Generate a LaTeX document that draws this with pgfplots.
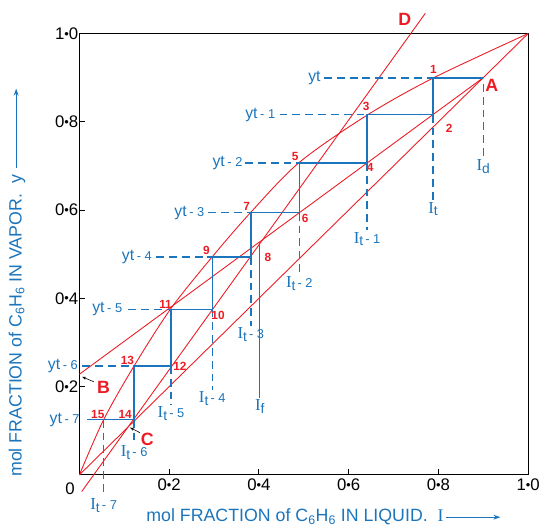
\documentclass[border=0pt]{standalone}
\usepackage{fontspec}
\setmainfont{Liberation Sans}
\newfontfamily\serif{Liberation Serif}
\usepackage{pgfplots}
\pgfplotsset{compat=1.18}
\usetikzlibrary{arrows.meta}
\definecolor{lred}{RGB}{237,28,36}
\definecolor{lblue}{RGB}{27,117,188}
\newcommand\fs[1]{\fontsize{#1}{#1}\selectfont}
% decimal dot of the tick labels
\newcommand\dt{\raisebox{1.2pt}{\fs{13}•}}
% labels for the stage lines
\newcommand\yl[1]{yt\,{\fs{13}- #1}}
\newcommand\il[1]{{\serif\fs{17}I}{\fs{14}\raisebox{-3pt}{t}}{\fs{13}\,- #1}}
\begin{document}
\begin{tikzpicture}
\begin{axis}[
  width=454.5pt, height=447pt, scale only axis,
  xmin=0, xmax=1, ymin=0, ymax=1,
  clip=false,
  axis line style={black, line width=1.1pt},
  xtick={0.2,0.4,0.6,0.8,1.0}, ytick={0.2,0.4,0.6,0.8,1.0},
  xticklabels={0\dt2,0\dt4,0\dt6,0\dt8,1\dt0},
  yticklabels={0\dt2,0\dt4,0\dt6,0\dt8,1\dt0},
  xtick pos=left, ytick pos=left, tick align=inside,
  major tick length=6pt,
  tick style={black, line width=1pt},
  ticklabel style={font=\fs{17}, text=black},
  yticklabel style={inner xsep=1pt},
  xticklabel style={inner ysep=4pt},
]
% diagonal, equilibrium curve, operating lines
\addplot[lred, line width=0.9pt] coordinates {(0,0) (1,1)};
\addplot[lred, line width=0.9pt, smooth] coordinates {
  (0,0) (0.054,0.125) (0.122,0.247) (0.204,0.377) (0.296,0.494) (0.382,0.595)
  (0.490,0.708) (0.641,0.815) (0.788,0.899) (1,1)};
\addplot[lred, line width=0.9pt] coordinates {(0,0.228) (0.9,0.9)};
\addplot[lred, line width=0.9pt] coordinates {(0.005,-0.038) (0.771,1.046)};

% stage staircase
\addplot[lblue, line width=1.4pt] coordinates {
  (0.9,0.899) (0.788,0.899) (0.788,0.816) (0.641,0.816) (0.641,0.707)
  (0.490,0.707) (0.490,0.594) (0.382,0.594) (0.382,0.494) (0.296,0.494)
  (0.296,0.375) (0.204,0.375) (0.204,0.247) (0.122,0.247) (0.122,0.125)
  (0.017,0.125)};
\addplot[lblue, line width=1.4pt] coordinates {(0.402,0.528) (0.402,0.174)};
\addplot[lblue, line width=1.4pt, dash pattern=on 8pt off 5pt, unbounded coords=jump] coordinates {
  (0.545,0.899) (0.788,0.899) (nan,nan)
  (0.446,0.816) (0.641,0.816) (nan,nan)
  (0.369,0.707) (0.490,0.707) (nan,nan)
  (0.287,0.594) (0.382,0.594) (nan,nan)
  (0.171,0.494) (0.296,0.494) (nan,nan)
  (0.109,0.375) (0.204,0.375) (nan,nan)
  (0.006,0.247) (0.122,0.247) (nan,nan)
  (0.788,0.816) (0.788,0.622) (nan,nan)
  (0.9,0.886) (0.9,0.718) (nan,nan)
  (0.641,0.707) (0.641,0.554) (nan,nan)
  (0.490,0.594) (0.490,0.454) (nan,nan)
  (0.382,0.494) (0.382,0.338) (nan,nan)
  (0.296,0.375) (0.296,0.192) (nan,nan)
  (0.204,0.247) (0.204,0.159) (nan,nan)
  (0.122,0.125) (0.122,0.070) (nan,nan)
  (0.054,0.125) (0.054,-0.049)};

% y labels of the stages
\begin{scope}[every node/.style={anchor=east, text=lblue, font=\fs{16}, inner sep=1pt}]
\node at (axis cs:0.540,0.899) {yt};
\node at (axis cs:0.439,0.816) {\yl1};
\node at (axis cs:0.366,0.707) {\yl2};
\node at (axis cs:0.281,0.594) {\yl3};
\node at (axis cs:0.164,0.494) {\yl4};
\node at (axis cs:0.098,0.375) {\yl5};
\node at (axis cs:-0.001,0.247) {\yl6};
\node at (axis cs:0.003,0.125) {\yl7};
\end{scope}
% x labels of the stages
\begin{scope}[every node/.style={anchor=north, text=lblue, inner sep=1.5pt}]
\node at (axis cs:0.788,0.622) {{\serif\fs{17}I}{\fs{14}\raisebox{-3pt}{t}}};
\node at (axis cs:0.9,0.718) {{\serif\fs{17}I}{\fs{14}\raisebox{-3pt}{d}}};
\node at (axis cs:0.641,0.554) {\il1};
\node at (axis cs:0.490,0.454) {\il2};
\node at (axis cs:0.382,0.338) {\il3};
\node at (axis cs:0.296,0.192) {\il4};
\node at (axis cs:0.204,0.159) {\il5};
\node at (axis cs:0.122,0.070) {\il6};
\node at (axis cs:0.054,-0.049) {\il7};
\node at (axis cs:0.402,0.174) {{\serif\fs{17}I}{\fs{14}\raisebox{-3pt}{f}}};
\end{scope}
% stage numbers
\begin{scope}[every node/.style={text=lred, font=\bfseries\fs{12}, inner sep=0pt}]
\node at (axis cs:0.789,0.918) {1};
\node at (axis cs:0.824,0.785) {2};
\node at (axis cs:0.639,0.835) {3};
\node at (axis cs:0.648,0.696) {4};
\node at (axis cs:0.481,0.722) {5};
\node at (axis cs:0.503,0.582) {6};
\node at (axis cs:0.373,0.608) {7};
\node at (axis cs:0.420,0.493) {8};
\node at (axis cs:0.283,0.509) {9};
\node at (axis cs:0.309,0.362) {10};
\node at (axis cs:0.192,0.386) {11};
\node at (axis cs:0.224,0.245) {12};
\node at (axis cs:0.107,0.260) {13};
\node at (axis cs:0.102,0.136) {14};
\node at (axis cs:0.041,0.136) {15};
\end{scope}
% end points
\begin{scope}[every node/.style={text=lred, font=\bfseries\fs{18}, inner sep=0pt}]
\node at (axis cs:0.919,0.882) {A};
\node at (axis cs:0.054,0.199) {B};
\node at (axis cs:0.151,0.081) {C};
\node at (axis cs:0.725,1.031) {D};
\end{scope}
\draw[-{Stealth[length=4pt,width=3pt]}, black, line width=0.6pt] (axis cs:0.032,0.211) -- (axis cs:0.006,0.222);
\draw[-{Stealth[length=4pt,width=3pt]}, black, line width=0.6pt] (axis cs:0.135,0.0955) -- (axis cs:0.113,0.107);

% origin and axis titles
\node[font=\fs{17}, inner sep=0pt] at (axis cs:-0.021,-0.032) {0};
\node[anchor=east, text=lblue, font=\fs{18}, inner sep=0pt] at (axis cs:0.812,-0.096)
  {mol FRACTION of C\textsubscript{6}H\textsubscript{6} IN LIQUID.\ \ {\serif I}};
\draw[-{Stealth[length=7pt,width=5pt]}, lblue, line width=1pt] (axis cs:0.817,-0.096) -- (axis cs:0.938,-0.096);
\node[anchor=east, rotate=90, text=lblue, font=\fs{18}, inner sep=0pt] at (axis cs:-0.139,0.680)
  {mol FRACTION of C\textsubscript{6}H\textsubscript{6} IN VAPOR.\ \ y};
\draw[-{Stealth[length=7pt,width=5pt]}, lblue, line width=1pt] (axis cs:-0.141,0.696) -- (axis cs:-0.141,0.875);

% keep the page the size of the reference
\path (axis cs:-0.177,-0.123) rectangle (axis cs:1.0176,1.076);
\end{axis}
\end{tikzpicture}
\end{document}
